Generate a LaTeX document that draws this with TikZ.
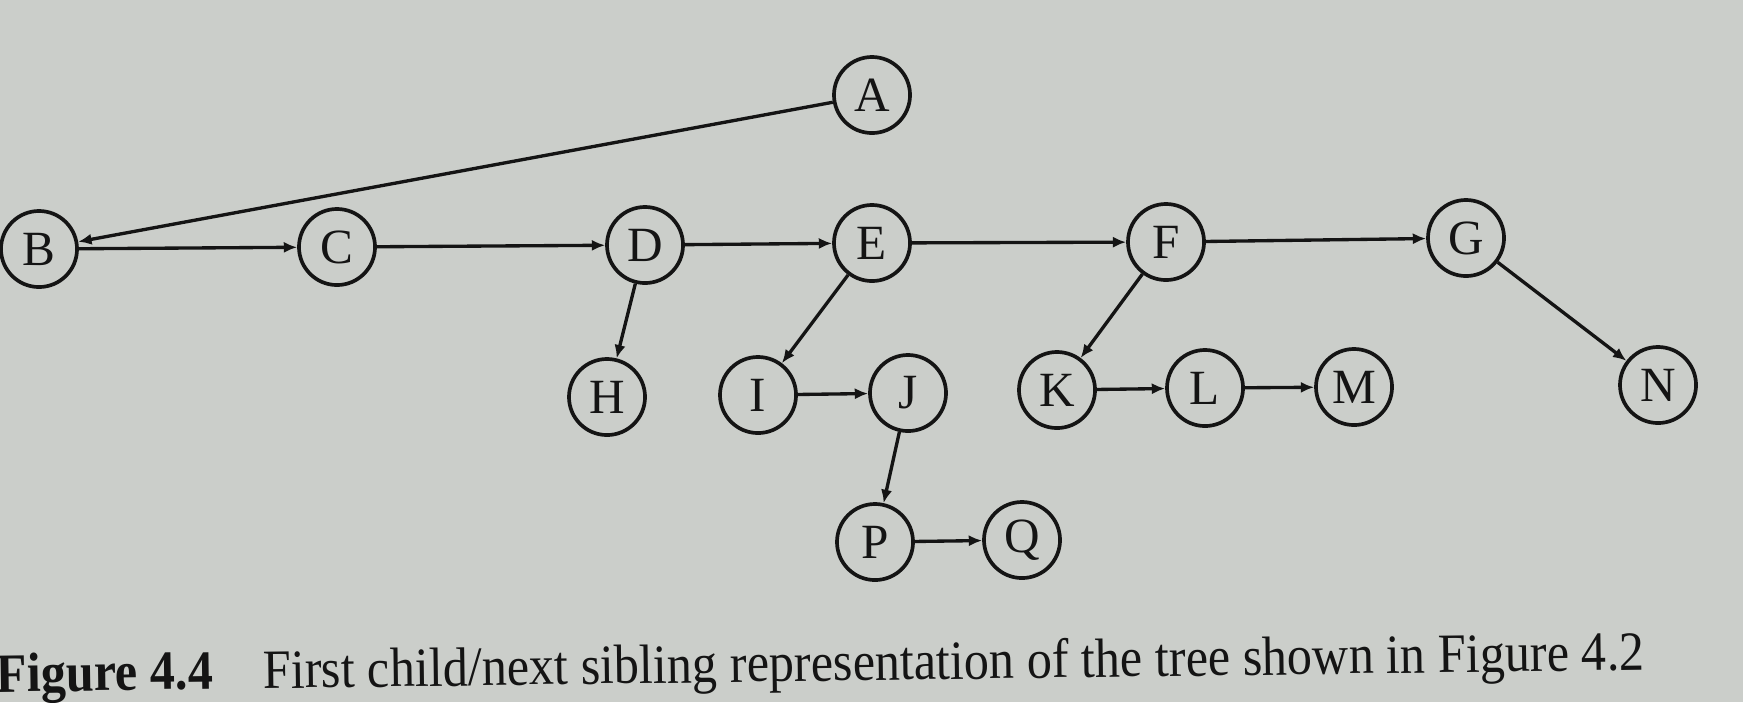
\documentclass[tikz,border=0pt]{standalone}
\usepackage{fontspec}
\setmainfont{Liberation Serif}
\usepackage{tikz}
\usetikzlibrary{arrows.meta}
\definecolor{paper}{RGB}{203,206,202}
\definecolor{ink}{RGB}{20,20,20}
\tikzstyle{vertex} = [circle, draw=ink, line width=1.05pt, minimum size=7.6mm, inner sep=0pt, text=ink, font=\fontsize{14}{16}\selectfont]
\tikzstyle{arrow} = [line width=0.95pt, draw=ink, -{Latex[length=3.8pt,width=3.2pt]}]

\begin{document}
\begin{tikzpicture}[x=0.01cm, y=-0.01cm]
						\useasboundingbox (0, 0) rectangle (1743, 702);
						\fill [paper] (0, 0) rectangle (1743, 702);
						% top row
						\node [vertex] (A) at (872, 95) {A};
						\node [vertex] (B) at (39, 249) {B};
						\node [vertex] (C) at (337, 247) {C};
						\node [vertex] (D) at (645, 245) {D};
						\node [vertex] (E) at (872, 243) {E};
						\node [vertex] (F) at (1166, 242) {F};
						\node [vertex] (G) at (1466, 238) {G};
						% second row
						\node [vertex] (H) at (607, 397) {H};
						\node [vertex] (I) at (758, 395) {I};
						\node [vertex] (J) at (908, 393) {J};
						\node [vertex] (K) at (1057, 390) {K};
						\node [vertex] (L) at (1205, 388) {L};
						\node [vertex] (M) at (1354, 387) {M};
						\node [vertex] (N) at (1658, 385) {N};
						% third row
						\node [vertex] (P) at (875, 542) {P};
						\node [vertex] (Q) at (1022, 540) {Q};
						\draw [arrow] (A) -- (B);
						\draw [arrow] (B) -- (C);
						\draw [arrow] (C) -- (D);
						\draw [arrow] (D) -- (E);
						\draw [arrow] (E) -- (F);
						\draw [arrow] (F) -- (G);
						\draw [arrow] (D) -- (H);
						\draw [arrow] (E) -- (I);
						\draw [arrow] (I) -- (J);
						\draw [arrow] (J) -- (P);
						\draw [arrow] (P) -- (Q);
						\draw [arrow] (F) -- (K);
						\draw [arrow] (K) -- (L);
						\draw [arrow] (L) -- (M);
						\draw [arrow] (G) -- (N);
						\node [anchor=base west, rotate=0.77, inner sep=0pt, text=ink] (caption) at (-4, 692) {\resizebox{16.47cm}{0.39cm}{\textbf{Figure 4.4}\quad First child/next sibling representation of the tree shown in Figure 4.2}};
					\end{tikzpicture}
\end{document}
